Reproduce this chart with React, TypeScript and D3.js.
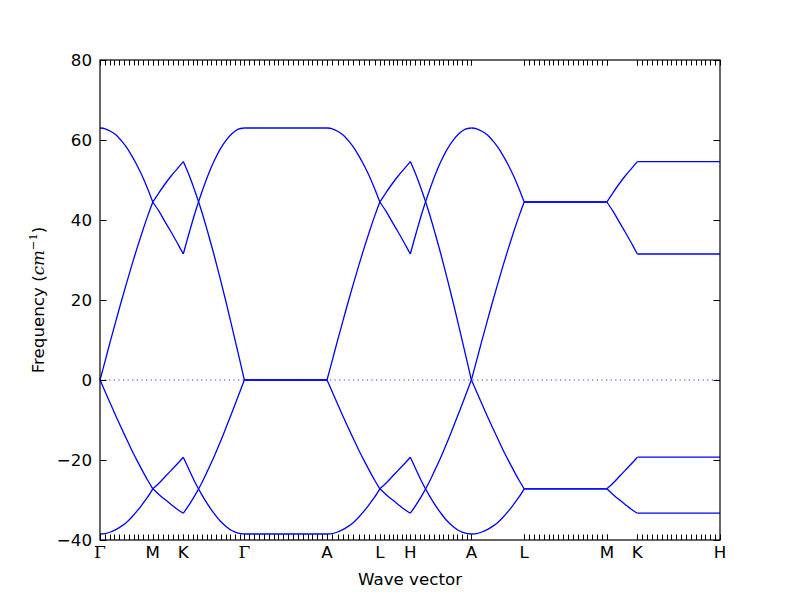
import React from 'react';
import * as d3 from 'd3';

// High-symmetry path
const pointLabels = ["Γ", "M", "K", "Γ", "A", "L", "H", "A", "L", "M", "K", "H"];
const segmentLengths = [0.577, 0.333, 0.667, 0.903, 0.577, 0.333, 0.667, 0.577, 0.903, 0.333, 0.903];
const qTickCounts = [11, 6, 13, 17, 10, 7, 13, 0, 17, 0, 17];
const yTicks = [-40, -20, 0, 20, 40, 60, 80];

// Γ→M samples
const gmRise = [0, 4.9, 9.9, 14.7, 19.5, 24.1, 28.6, 32.9, 37.0, 40.9, 44.5];
const gmFall = [63, 62.8, 62.2, 61.3, 59.9, 58.2, 56.1, 53.7, 51.0, 47.9, 44.5];
const gmDrop = [0, -3.0, -6.0, -9.0, -11.9, -14.7, -17.5, -20.1, -22.6, -25.0, -27.2];
const gmLift = [-38.5, -38.4, -38.0, -37.4, -36.6, -35.6, -34.3, -32.8, -31.1, -29.3, -27.2];
// M→K samples
const mkUp = [44.5, 46.8, 49.0, 51.0, 52.8, 54.6];
const mkDown = [44.5, 42.2, 39.6, 37.0, 34.3, 31.5];
const mkLow = [-27.2, -28.6, -29.9, -31.1, -32.3, -33.3];
const mkHigh = [-27.2, -25.8, -24.2, -22.6, -21.0, -19.3];
// K→Γ samples
const kgA = [54.6, 51.0, 46.8, 42.2, 37.0, 31.5, 25.6, 19.5, 13.1, 6.6, 0];
const kgB = [31.5, 37.0, 42.2, 46.8, 51.0, 54.6, 57.6, 59.9, 61.6, 62.7, 63];
const kgC = [-33.3, -31.1, -28.6, -25.8, -22.6, -19.3, -15.7, -11.9, -8.0, -4.0, 0];
const kgD = [-19.3, -22.6, -25.8, -28.6, -31.1, -33.3, -35.2, -36.6, -37.7, -38.3, -38.5];
// flat segments
const gaFlat = [[0, 0], [63, 63], [0, 0], [-38.5, -38.5]];
const lmFlat = [[44.5, 44.5], [44.5, 44.5], [-27.2, -27.2], [-27.2, -27.2]];
const khFlat = [[54.6, 54.6], [31.5, 31.5], [-33.3, -33.3], [-19.3, -19.3]];

const gm = [gmRise, gmFall, gmDrop, gmLift];
const mk = [mkUp, mkDown, mkLow, mkHigh];
const kg = [kgA, kgB, kgC, kgD];
const segmentBands = [gm, mk, kg, gaFlat, gm, mk, kg, gm, lmFlat, mk, khFlat];

const W = 800, H = 600;
const L = 100, R = 720, T = 60, B = 540;

export default function App() {
  const starts: number[] = [0];
  segmentLengths.forEach((l, i) => starts.push(starts[i] + l));
  const total = starts[starts.length - 1];
  const x = d3.scaleLinear().domain([0, total]).range([L, R]);
  const y = d3.scaleLinear().domain([-40, 80]).range([B, T]);

  const line = d3.line<[number, number]>()
    .x(d => x(d[0])).y(d => y(d[1]))
    .curve(d3.curveCatmullRom.alpha(0.5));

  const paths: string[] = [];
  segmentBands.forEach((bands, si) => {
    bands.forEach(vals => {
      const n = vals.length;
      const pts: [number, number][] = vals.map((v, i) => [starts[si] + segmentLengths[si] * i / (n - 1), v]);
      paths.push(line(pts) as string);
    });
  });

  const qTicks: number[] = [];
  qTickCounts.forEach((c, si) => {
    if (c === 0) { qTicks.push(starts[si]); qTicks.push(starts[si + 1]); return; }
    for (let i = 0; i <= c; i++) qTicks.push(starts[si] + segmentLengths[si] * i / c);
  });

  const font = "'DejaVu Sans', sans-serif";
  const fs = 16.7;
  const tl = 5.5;

  return (
    <svg width={W} height={H} style={{ position: 'absolute', left: 0, top: 0, background: '#fff' }}>
      <rect x={0} y={0} width={W} height={H} fill="#fff" />
      <line x1={L} x2={R} y1={y(0)} y2={y(0)} stroke="#0000ff" strokeWidth={0.8} strokeDasharray="1.2,3.4" />
      <g fill="none" stroke="#0000ff" strokeWidth={1.3}>
        {paths.map((d, i) => <path key={i} d={d} />)}
      </g>
      {/* ticks */}
      <g stroke="#000" strokeWidth={1}>
        {qTicks.map((t, i) => (
          <g key={i}>
            <line x1={Math.round(x(t)) + 0.5} x2={Math.round(x(t)) + 0.5} y1={B} y2={B - tl} />
            <line x1={Math.round(x(t)) + 0.5} x2={Math.round(x(t)) + 0.5} y1={T} y2={T + tl} />
          </g>
        ))}
        {yTicks.map((v, i) => (
          <g key={i}>
            <line x1={L} x2={L + tl + 1} y1={Math.round(y(v)) + 0.5} y2={Math.round(y(v)) + 0.5} />
            <line x1={R} x2={R - tl - 1} y1={Math.round(y(v)) + 0.5} y2={Math.round(y(v)) + 0.5} />
          </g>
        ))}
      </g>
      <rect x={L} y={T} width={R - L} height={B - T} fill="none" stroke="#000" strokeWidth={1.2} />
      {/* y tick labels */}
      <g fontFamily={font} fontSize={fs} textAnchor="end" fill="#000">
        {yTicks.map((v, i) => (
          <text key={i} x={L - 8} y={y(v) + 6}>{v < 0 ? '\u2212' + Math.abs(v) : String(v)}</text>
        ))}
      </g>
      {/* x tick labels */}
      <g fontSize={fs} textAnchor="middle" fill="#000">
        {pointLabels.map((lab, i) => (
          <text key={i} x={x(starts[i])} y={558}
            fontFamily={lab === 'Γ' ? "'DejaVu Serif', serif" : font}
            fontSize={lab === 'Γ' ? 17 : fs}>{lab}</text>
        ))}
      </g>
      <text x={(L + R) / 2} y={585} fontFamily={font} fontSize={fs} textAnchor="middle">Wave vector</text>
      <text transform={`translate(44,${(T + B) / 2}) rotate(-90)`} fontFamily={font} fontSize={fs} textAnchor="middle">
        Frequency (<tspan fontFamily="'DejaVu Serif', serif" fontStyle="italic">cm</tspan>
        <tspan fontFamily="'DejaVu Serif', serif" fontSize={11.5} dy={-7}>{'\u2212'}1</tspan>
        <tspan dy={7}>)</tspan>
      </text>
    </svg>
  );
}
